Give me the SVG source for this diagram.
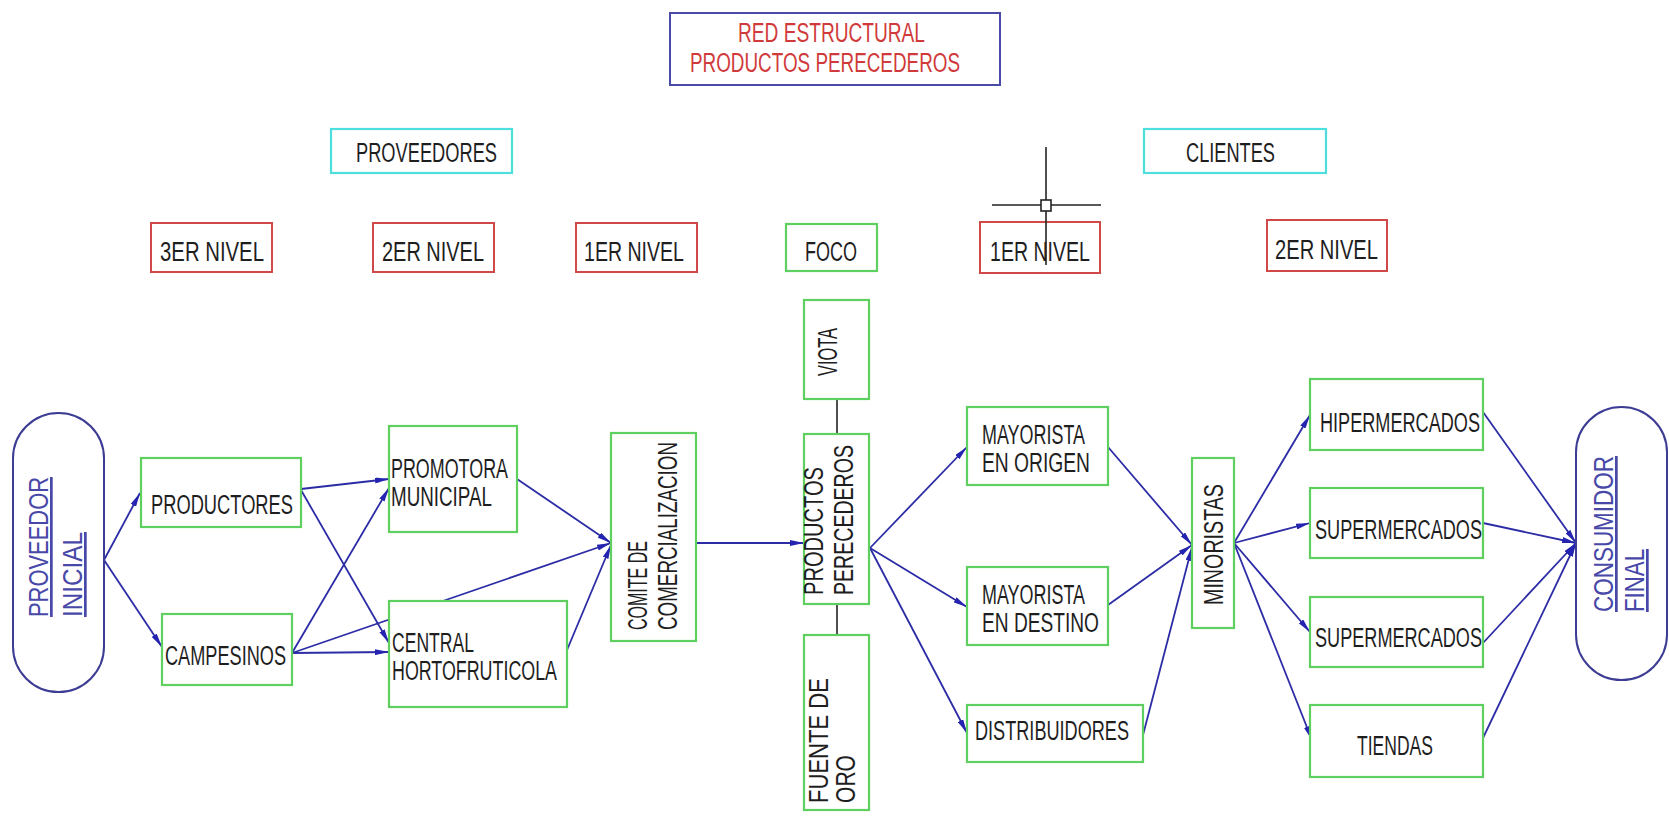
<svg xmlns="http://www.w3.org/2000/svg" width="1669" height="817" viewBox="0 0 1669 817">
<defs>
<style>
text{font-family:"Liberation Sans",Arial,sans-serif;font-size:27px;fill:#1e1e1e}
.g{fill:#fff;stroke:#5fcf5f;stroke-width:2.2}
.r{fill:#fff;stroke:#d04848;stroke-width:2}
.c{fill:#fff;stroke:#4fdede;stroke-width:2.2}
.pill{fill:#fff;stroke:#3c3c94;stroke-width:2}
.title{fill:#fff;stroke:#4a4aa8;stroke-width:2}
.red{fill:#d03a3a;font-size:27px}
.lvl{font-size:27px}
.blue{fill:#4848a8;text-decoration:underline}
.e{stroke:#2c2ca6;stroke-width:1.8;fill:none;marker-end:url(#ah)}
.k{stroke:#222;stroke-width:1.6}
</style>
<marker id="ah" viewBox="0 0 14 6" refX="14" refY="3" markerWidth="14" markerHeight="6" markerUnits="userSpaceOnUse" orient="auto">
<path d="M0,0 L14,3 L0,6 z" fill="#2424b0"/>
</marker>
</defs>
<rect width="1669" height="817" fill="#fff"/>

<g id="title">
<rect class="title" x="670" y="13" width="330" height="72"/>
<text class="red" x="738" y="42" textLength="187" lengthAdjust="spacingAndGlyphs">RED ESTRUCTURAL</text>
<text class="red" x="690" y="72" textLength="270" lengthAdjust="spacingAndGlyphs">PRODUCTOS PERECEDEROS</text>
</g>

<g id="proveedores"><rect class="c" x="331" y="129" width="181" height="44"/><text x="356" y="162" textLength="141" lengthAdjust="spacingAndGlyphs">PROVEEDORES</text></g>
<g id="clientes"><rect class="c" x="1144" y="129" width="182" height="44"/><text x="1186" y="162" textLength="89" lengthAdjust="spacingAndGlyphs">CLIENTES</text></g>

<g id="nivel3p"><rect class="r" x="151" y="223" width="121" height="49"/><text class="lvl" x="160" y="261" textLength="104" lengthAdjust="spacingAndGlyphs">3ER NIVEL</text></g>
<g id="nivel2p"><rect class="r" x="373" y="223" width="121" height="49"/><text class="lvl" x="382" y="261" textLength="102" lengthAdjust="spacingAndGlyphs">2ER NIVEL</text></g>
<g id="nivel1p"><rect class="r" x="576" y="223" width="121" height="49"/><text class="lvl" x="584" y="261" textLength="100" lengthAdjust="spacingAndGlyphs">1ER NIVEL</text></g>
<g id="foco"><rect class="g" x="786" y="224" width="91" height="47"/><text class="lvl" x="805" y="261" textLength="52" lengthAdjust="spacingAndGlyphs">FOCO</text></g>
<g id="nivel1c"><rect class="r" x="980" y="222" width="120" height="51"/><text class="lvl" x="990" y="261" textLength="100" lengthAdjust="spacingAndGlyphs">1ER NIVEL</text></g>
<g id="nivel2c"><rect class="r" x="1267" y="220" width="120" height="51"/><text class="lvl" x="1275" y="259" textLength="103" lengthAdjust="spacingAndGlyphs">2ER NIVEL</text></g>

<g id="crosshair">
<line class="k" x1="1046" y1="147" x2="1046" y2="265" stroke-width="1.4"/>
<line class="k" x1="992" y1="205" x2="1101" y2="205" stroke-width="2.6"/>
<rect x="1041" y="200" width="10" height="11" fill="#fff" stroke="#222" stroke-width="1.6"/>
</g>

<g id="connectors">
<line class="e" x1="104" y1="560" x2="140" y2="493"/>
<line class="e" x1="104" y1="560" x2="162" y2="647"/>
<line class="e" x1="301" y1="489" x2="389" y2="479"/>
<line class="e" x1="301" y1="490" x2="389" y2="643"/>
<line class="e" x1="292" y1="653" x2="389" y2="488"/>
<line class="e" x1="292" y1="653" x2="389" y2="652"/>
<line class="e" x1="292" y1="653" x2="611" y2="543"/>
<line class="e" x1="517" y1="479" x2="611" y2="543"/>
<line class="e" x1="567" y1="650" x2="611" y2="545"/>
<line class="e" x1="697" y1="543" x2="804" y2="543"/>
<line class="e" x1="870" y1="548" x2="967" y2="447"/>
<line class="e" x1="870" y1="548" x2="967" y2="607"/>
<line class="e" x1="870" y1="548" x2="967" y2="733"/>
<line class="e" x1="1108" y1="447" x2="1192" y2="545"/>
<line class="e" x1="1108" y1="605" x2="1192" y2="545"/>
<line class="e" x1="1143" y1="735" x2="1192" y2="547"/>
<line class="e" x1="1234" y1="543" x2="1310" y2="415"/>
<line class="e" x1="1234" y1="543" x2="1310" y2="523"/>
<line class="e" x1="1234" y1="543" x2="1310" y2="632"/>
<line class="e" x1="1234" y1="543" x2="1312" y2="740"/>
<line class="e" x1="1483" y1="412" x2="1576" y2="543"/>
<line class="e" x1="1483" y1="523" x2="1576" y2="543"/>
<line class="e" x1="1483" y1="643" x2="1576" y2="543"/>
<line class="e" x1="1483" y1="738" x2="1576" y2="543"/>
<line class="k" x1="837" y1="399" x2="837" y2="434"/>
<line class="k" x1="837" y1="604" x2="837" y2="635"/>
</g>

<g id="proveedor-inicial">
<rect class="pill" x="13" y="413" width="91" height="279" rx="45.5" ry="45.5"/>
<text class="blue" transform="rotate(-90 48 617)" x="48" y="617" textLength="140" lengthAdjust="spacingAndGlyphs">PROVEEDOR</text>
<text class="blue" transform="rotate(-90 82 617)" x="82" y="617" textLength="85" lengthAdjust="spacingAndGlyphs">INICIAL</text>
</g>

<g id="productores"><rect class="g" x="141" y="458" width="160" height="69"/><text x="151" y="514" textLength="142" lengthAdjust="spacingAndGlyphs">PRODUCTORES</text></g>
<g id="campesinos"><rect class="g" x="162" y="614" width="130" height="71"/><text x="165" y="665" textLength="121" lengthAdjust="spacingAndGlyphs">CAMPESINOS</text></g>
<g id="promotora"><rect class="g" x="389" y="426" width="128" height="106"/>
<text x="391" y="478" textLength="117" lengthAdjust="spacingAndGlyphs">PROMOTORA</text>
<text x="391" y="506" textLength="101" lengthAdjust="spacingAndGlyphs">MUNICIPAL</text></g>
<g id="central"><rect class="g" x="389" y="601" width="178" height="106"/>
<text x="392" y="652" textLength="82" lengthAdjust="spacingAndGlyphs">CENTRAL</text>
<text x="392" y="680" textLength="165" lengthAdjust="spacingAndGlyphs">HORTOFRUTICOLA</text></g>
<g id="comite"><rect class="g" x="611" y="433" width="85" height="208"/>
<text transform="rotate(-90 647 630)" x="647" y="630" textLength="89" lengthAdjust="spacingAndGlyphs">COMITE DE</text>
<text transform="rotate(-90 677 630)" x="677" y="630" textLength="188" lengthAdjust="spacingAndGlyphs">COMERCIALIZACION</text></g>
<g id="viota"><rect class="g" x="804" y="300" width="65" height="99"/>
<text transform="rotate(-90 837 376)" x="837" y="376" textLength="48" lengthAdjust="spacingAndGlyphs">VIOTA</text></g>
<g id="productos-perecederos"><rect class="g" x="804" y="434" width="65" height="170"/>
<text transform="rotate(-90 823 595)" x="823" y="595" textLength="128" lengthAdjust="spacingAndGlyphs">PRODUCTOS</text>
<text transform="rotate(-90 853 595)" x="853" y="595" textLength="150" lengthAdjust="spacingAndGlyphs">PERECEDEROS</text></g>
<g id="fuente-de-oro"><rect class="g" x="804" y="635" width="65" height="175"/>
<text transform="rotate(-90 828 803)" x="828" y="803" textLength="125" lengthAdjust="spacingAndGlyphs">FUENTE DE</text>
<text transform="rotate(-90 855 803)" x="855" y="803" textLength="48" lengthAdjust="spacingAndGlyphs">ORO</text></g>
<g id="mayorista-origen"><rect class="g" x="967" y="407" width="141" height="78"/>
<text x="982" y="444" textLength="103" lengthAdjust="spacingAndGlyphs">MAYORISTA</text>
<text x="982" y="472" textLength="108" lengthAdjust="spacingAndGlyphs">EN ORIGEN</text></g>
<g id="mayorista-destino"><rect class="g" x="967" y="567" width="141" height="78"/>
<text x="982" y="604" textLength="103" lengthAdjust="spacingAndGlyphs">MAYORISTA</text>
<text x="982" y="632" textLength="117" lengthAdjust="spacingAndGlyphs">EN DESTINO</text></g>
<g id="distribuidores"><rect class="g" x="967" y="705" width="176" height="57"/>
<text x="975" y="740" textLength="154" lengthAdjust="spacingAndGlyphs">DISTRIBUIDORES</text></g>
<g id="minoristas"><rect class="g" x="1192" y="458" width="42" height="170"/>
<text transform="rotate(-90 1223 605)" x="1223" y="605" textLength="121" lengthAdjust="spacingAndGlyphs">MINORISTAS</text></g>
<g id="hipermercados"><rect class="g" x="1310" y="379" width="173" height="71"/>
<text x="1320" y="432" textLength="160" lengthAdjust="spacingAndGlyphs">HIPERMERCADOS</text></g>
<g id="supermercados1"><rect class="g" x="1310" y="488" width="173" height="70"/>
<text x="1315" y="539" textLength="167" lengthAdjust="spacingAndGlyphs">SUPERMERCADOS</text></g>
<g id="supermercados2"><rect class="g" x="1310" y="597" width="173" height="70"/>
<text x="1315" y="647" textLength="167" lengthAdjust="spacingAndGlyphs">SUPERMERCADOS</text></g>
<g id="tiendas"><rect class="g" x="1310" y="705" width="173" height="72"/>
<text x="1357" y="755" textLength="76" lengthAdjust="spacingAndGlyphs">TIENDAS</text></g>
<g id="consumidor-final">
<rect class="pill" x="1576" y="407" width="91" height="273" rx="45.5" ry="45.5"/>
<text class="blue" transform="rotate(-90 1613 612)" x="1613" y="612" textLength="156" lengthAdjust="spacingAndGlyphs">CONSUMIDOR</text>
<text class="blue" transform="rotate(-90 1644 612)" x="1644" y="612" textLength="63" lengthAdjust="spacingAndGlyphs">FINAL</text>
</g>
</svg>
